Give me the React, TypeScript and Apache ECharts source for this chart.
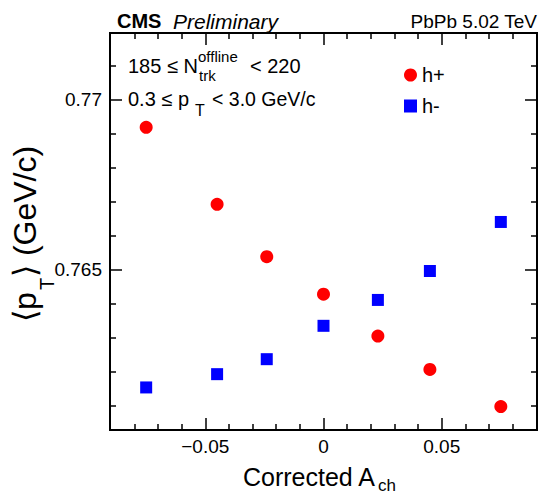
import React, { useEffect, useRef } from "react";
import * as echarts from "echarts";

// Data
const achValues = [-0.075, -0.045, -0.024, 0, 0.023, 0.045, 0.075];
const hPlusMeanPt = [0.76919, 0.76693, 0.76539, 0.76429, 0.76306, 0.76208, 0.76099];
const hMinusMeanPt = [0.76155, 0.76194, 0.76238, 0.76336, 0.76412, 0.76497, 0.76641];
const seriesNames = ["h+", "h-"];

// Ticks
const xMajorTicks = [-0.05, 0, 0.05];
const xMinorTicks = [-0.08, -0.07, -0.06, -0.04, -0.03, -0.02, -0.01, 0.01, 0.02, 0.03, 0.04, 0.06, 0.07, 0.08];
const yMajorTicks = [0.765, 0.77];
const yMinorTicks = [0.761, 0.762, 0.763, 0.764, 0.766, 0.767, 0.768, 0.769, 0.771];

const X_MIN = -0.0903;
const X_MAX = 0.0903;
const Y_MIN = 0.7603;
const Y_MAX = 0.77196;

const FONT = "'Liberation Sans', Arial, Helvetica, sans-serif";

function xAxisDef(position: string, ticks: number[], len: number, withLabels: boolean) {
  return {
    type: "value",
    position,
    min: X_MIN,
    max: X_MAX,
    axisLine: { show: true, onZero: false, lineStyle: { color: "#000", width: 2 } },
    axisTick: { show: true, inside: true, length: len, customValues: ticks, lineStyle: { color: "#000", width: 1.5 } },
    axisLabel: withLabels
      ? {
          show: true,
          customValues: xMajorTicks,
          formatter: (v: number) => (v < 0 ? "\u2212" + String(Math.abs(v)) : String(v)),
          fontSize: 19,
          fontFamily: FONT,
          color: "#000",
          margin: 7,
        }
      : { show: false },
    splitLine: { show: false },
  };
}

function yAxisDef(position: string, ticks: number[], len: number, withLabels: boolean) {
  return {
    type: "value",
    position,
    min: Y_MIN,
    max: Y_MAX,
    axisLine: { show: true, onZero: false, lineStyle: { color: "#000", width: 2 } },
    axisTick: { show: true, inside: true, length: len, customValues: ticks, lineStyle: { color: "#000", width: 1.5 } },
    axisLabel: withLabels
      ? {
          show: true,
          customValues: yMajorTicks,
          formatter: (v: number) => String(Number(v.toFixed(4))),
          fontSize: 19,
          fontFamily: FONT,
          color: "#000",
          margin: 8,
        }
      : { show: false },
    splitLine: { show: false },
  };
}

export default function App() {
  const ref = useRef<HTMLDivElement>(null);

  useEffect(() => {
    if (!ref.current) return;
    const chart = echarts.init(ref.current, undefined, { renderer: "svg" });
    const txt = (text: string, x: number, y: number, size: number, extra: any = {}) => ({
      type: "text",
      x,
      y,
      style: {
        text,
        fontSize: size,
        fontFamily: FONT,
        fill: "#000",
        align: "left",
        verticalAlign: "middle",
        ...extra,
      },
    });

    chart.setOption({
      animation: false,
      backgroundColor: "#fff",
      grid: { left: 110, right: 9, top: 33, bottom: 65, containLabel: false },
      xAxis: [
        xAxisDef("bottom", xMinorTicks, 6, true),
        xAxisDef("bottom", xMajorTicks, 12, false),
        xAxisDef("top", xMinorTicks, 6, false),
        xAxisDef("top", xMajorTicks, 12, false),
      ],
      yAxis: [
        yAxisDef("left", yMinorTicks, 6, true),
        yAxisDef("left", yMajorTicks, 12, false),
        yAxisDef("right", yMinorTicks, 6, false),
        yAxisDef("right", yMajorTicks, 12, false),
      ],
      legend: {
        orient: "vertical",
        left: 399,
        top: 60,
        itemWidth: 13,
        itemHeight: 13,
        itemGap: 11,
        textStyle: { fontSize: 20, fontFamily: FONT, color: "#000" },
        data: [
          { name: seriesNames[0], icon: "circle" },
          { name: seriesNames[1], icon: "rect" },
        ],
      },
      series: [
        {
          name: seriesNames[0],
          type: "scatter",
          xAxisIndex: 0,
          yAxisIndex: 0,
          symbol: "circle",
          symbolSize: 13,
          itemStyle: { color: "#ff0000", opacity: 1 },
          data: achValues.map((x, i) => [x, hPlusMeanPt[i]]),
        },
        {
          name: seriesNames[1],
          type: "scatter",
          xAxisIndex: 0,
          yAxisIndex: 0,
          symbol: "rect",
          symbolSize: 12,
          itemStyle: { color: "#0000ff", opacity: 1 },
          data: achValues.map((x, i) => [x, hMinusMeanPt[i]]),
        },
      ],
      graphic: [
        txt("CMS", 117, 21, 20, { fontWeight: "bold" }),
        txt("Preliminary", 173, 21, 21, { fontStyle: "italic" }),
        txt("PbPb 5.02 TeV", 537, 21, 19, { align: "right" }),
        txt("185 \u2264 N", 128, 66, 20),
        txt("offline", 198, 56, 15),
        txt("trk", 199, 75, 15),
        txt("< 220", 250, 66, 20),
        txt("0.3 \u2264 p", 128, 99, 20),
        txt("T", 195, 110, 16),
        txt("< 3.0 GeV/c", 212, 99, 19.5),
        txt("Corrected A", 243, 477, 25),
        txt("ch", 378, 485, 17),
        {
          type: "group",
          x: 25,
          y: 322,
          rotation: Math.PI / 2,
          children: [
            txt("\u27E8p", 0, 0, 32),
            txt("T", 32, 22, 20),
            txt("\u27E9 (GeV/c)", 45, 0, 32),
          ],
        },
      ],
    });
    return () => chart.dispose();
  }, []);

  return (
    <div
      ref={ref}
      style={{ position: "absolute", left: 0, top: 0, width: 546, height: 495 }}
    />
  );
}
